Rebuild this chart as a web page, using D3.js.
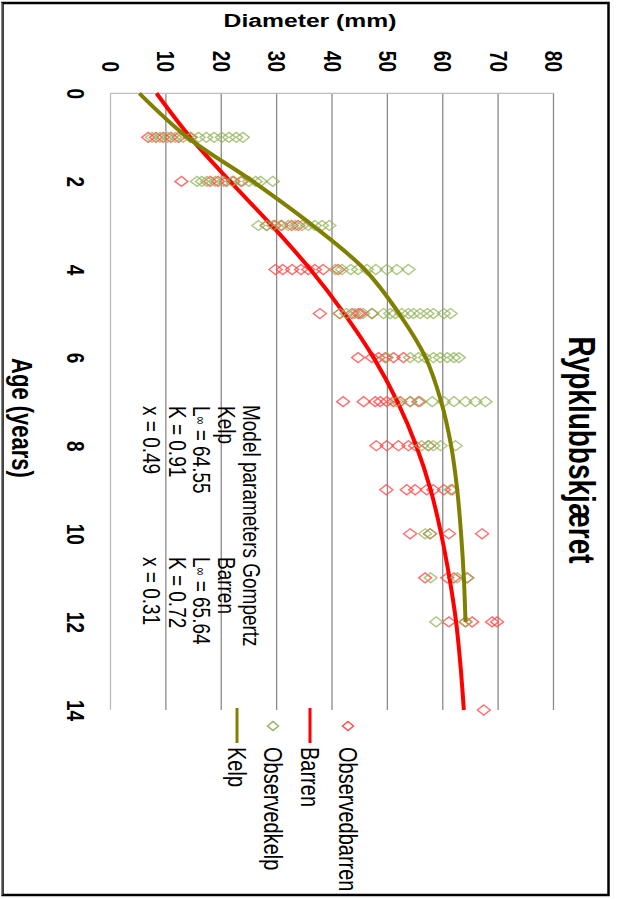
<!DOCTYPE html>
<html>
<head>
<meta charset="utf-8">
<script src="https://cdn.jsdelivr.net/npm/d3@7"></script>
<style>
  html, body { margin: 0; padding: 0; background: #fff; }
  svg { display: block; font-family: "Liberation Sans", Arial, sans-serif; }
</style>
</head>
<body>
<svg id="chart" width="621" height="899"></svg>
<script>
// ---- data ----
const chartTitle = "Rypklubbskjæret";
const xTitle = "Age (years)";
const yTitle = "Diameter (mm)";
const ageTicks = [0, 2, 4, 6, 8, 10, 12, 14];
const diameterTicks = [0, 10, 20, 30, 40, 50, 60, 70, 80];

// fitted Gompertz curves (diameter per age)
const kelpAges = [0, 1, 2, 3, 4, 5, 6, 7, 8, 9, 10, 11, 12];
const kelpFit = [5.3, 14.0, 25.8, 36.6, 46.0, 52.2, 57.0, 59.8, 61.6, 62.7, 63.4, 63.9, 64.2];
const barrenAges = [0, 1, 2, 3, 4, 5, 6, 7, 8, 9, 10, 11, 12, 13, 14];
const barrenFit = [8.4, 14.5, 21.7, 29.2, 36.2, 42.3, 47.6, 51.9, 55.3, 57.9, 59.8, 61.3, 62.5, 63.3, 63.9];

// observed diameters grouped by age
const observedBarren = [
  [1, [6.9, 8.3, 9.6, 11.0, 12.4, 14.5]],
  [2, [12.9, 18.1, 19.5, 21.0, 22.3, 23.8]],
  [3, [28.3, 29.8, 31.0, 32.8, 34.0]],
  [4, [29.9, 31.2, 32.9, 34.5, 35.8, 37.0, 38.5, 41.2]],
  [5, [37.9, 41.5, 43.7, 44.8, 45.2, 47.3]],
  [6, [44.8, 47.3, 48.5, 49.7, 51.2, 53.0]],
  [7, [42.1, 45.8, 47.9, 48.8, 50.0, 51.2, 52.4, 54.2, 55.7]],
  [8, [48.1, 50.0, 52.1, 53.9, 55.1, 57.5]],
  [9, [49.9, 53.6, 55.1, 57.2, 58.4, 60.3, 61.8]],
  [10, [54.2, 57.8, 61.2, 67.2]],
  [11, [56.9, 60.9, 62.1, 64.5]],
  [12, [61.2, 64.2, 65.4, 69.0, 69.9]],
  [14, [67.5]]
];
const observedKelp = [
  [1, [7.6, 9.0, 10.4, 11.8, 13.2, 14.6, 16.0, 17.4, 18.8, 20.2, 21.5, 22.8, 24.0]],
  [2, [15.7, 16.6, 17.5, 19.0, 20.5, 22.1, 23.6, 25.1, 26.3, 27.2, 29.4]],
  [3, [26.8, 28.3, 29.5, 30.8, 32.2, 33.5, 34.7, 35.8, 37.0, 38.3, 39.6]],
  [4, [40.7, 41.9, 43.5, 44.8, 46.4, 48.0, 50.0, 51.8, 53.9]],
  [5, [41.5, 42.7, 44.2, 45.7, 47.3, 49.4, 50.6, 51.5, 52.7, 53.9, 54.8, 56.0, 57.3, 58.4, 60.3, 61.5]],
  [6, [50.0, 54.2, 55.7, 56.9, 58.4, 59.6, 60.9, 62.1, 63.0]],
  [7, [51.8, 54.2, 56.0, 58.2, 60.3, 62.1, 64.2, 66.0, 67.8]],
  [8, [56.3, 57.5, 58.4, 59.7, 62.4]],
  [9, [61.5]],
  [10, [56.9, 57.8]],
  [11, [57.9, 62.7, 64.5]],
  [12, [58.9, 64.2]]
];

const paramHeader = "Model parameters Gompertz";
const paramKelp = ["Kelp", "64.55", "K = 0.91", "x = 0.49"];
const paramBarren = ["Barren", "65.64", "K = 0.72", "x = 0.31"];
const legendLabels = ["Observedbarren", "Barren", "Observedkelp", "Kelp"];

// ---- layout ----
const S = 1.3; // glyph stretch across the page
const svg = d3.select("#chart");
const x = d3.scaleLinear().domain([0, 80]).range([110, 553]);
const y = d3.scaleLinear().domain([0, 14]).range([93.3, 710]);
const rot = (px, py) => `translate(${px},${py}) rotate(90) scale(1,${S})`;

const colBarrenPt = "#ff4a4a";
const colKelpPt = "#92b45a";
const colBarren = "#ff0000";
const colKelp = "#808000";

// outer frame
svg.append("rect").attr("x", 2.5).attr("y", 3).attr("width", 606).attr("height", 892)
  .attr("fill", "#fff").attr("stroke", "#000").attr("stroke-width", 2.5);
svg.append("line").attr("x1", 1.8).attr("x2", 1.8).attr("y1", 3).attr("y2", 895)
  .attr("stroke", "#8a8a8a").attr("stroke-width", 1.5);

// gridlines + diameter labels
const gx = svg.append("g").attr("transform", `translate(0,${y(0)})`)
  .call(d3.axisTop(x).tickValues(diameterTicks).tickSize(-(y(14) - y(0))).tickFormat(d3.format("d")));
gx.select(".domain").remove();
gx.selectAll(".tick line").attr("stroke", d => d === 0 ? "#bdbdbd" : "#8a8a8a").attr("stroke-width", 1.3);
gx.selectAll(".tick text")
  .attr("y", null).attr("dy", null)
  .attr("transform", `translate(0,${72 - y(0)}) rotate(90) scale(1,${S})`)
  .attr("text-anchor", "end").attr("dominant-baseline", "central")
  .attr("font-size", 19).attr("font-weight", "bold").attr("fill", "#000")
  .attr("font-family", "Liberation Sans, Arial, sans-serif");

// top edge of plot
svg.append("line").attr("x1", x(0)).attr("x2", x(80)).attr("y1", y(0)).attr("y2", y(0))
  .attr("stroke", "#bdbdbd").attr("stroke-width", 1.3);

// age labels
const gy = svg.append("g").attr("transform", `translate(${x(0)},0)`)
  .call(d3.axisLeft(y).tickValues(ageTicks).tickSize(0).tickFormat(d3.format("d")));
gy.select(".domain").remove();
gy.selectAll(".tick text")
  .attr("x", null).attr("dy", null)
  .attr("transform", `translate(${75 - x(0)},0) rotate(90) scale(1,${S})`)
  .attr("text-anchor", "middle").attr("dominant-baseline", "central")
  .attr("font-size", 19).attr("font-weight", "bold").attr("fill", "#000")
  .attr("font-family", "Liberation Sans, Arial, sans-serif");

// titles
svg.append("text").attr("transform", `translate(310,27) scale(${S},1)`)
  .attr("text-anchor", "middle").attr("font-size", 19).attr("font-weight", "bold").text(yTitle);
svg.append("text").attr("transform", rot(22, 418))
  .attr("text-anchor", "middle").attr("dominant-baseline", "central")
  .attr("font-size", 22).attr("font-weight", "bold").text(xTitle);
svg.append("text").attr("transform", rot(581, 450))
  .attr("text-anchor", "middle").attr("dominant-baseline", "central")
  .attr("font-size", 28).attr("font-weight", "bold").text(chartTitle);

// observed points
const diamond = (w, h) => `M0,${-h}L${w},0L0,${h}L${-w},0Z`;
function drawObs(groups, color, op) {
  const pts = groups.flatMap(([age, ds]) => ds.map(d => [age, d]));
  svg.append("g").selectAll("path").data(pts).join("path")
    .attr("d", diamond(6.5, 5))
    .attr("transform", p => `translate(${x(p[1])},${y(p[0])})`)
    .attr("fill", "none").attr("stroke", color).attr("stroke-width", 1.4).attr("stroke-opacity", op);
}
function drawFit(ages, vals, color) {
  const line = d3.line().x(d => x(d[1])).y(d => y(d[0])).curve(d3.curveCatmullRom.alpha(0.5));
  svg.append("path").datum(ages.map((a, i) => [a, vals[i]]))
    .attr("d", line).attr("fill", "none").attr("stroke", color).attr("stroke-width", 4);
}
drawObs(observedBarren, colBarrenPt, 0.8);
drawFit(barrenAges, barrenFit, colBarren);
drawObs(observedKelp, colKelpPt, 0.75);
drawFit(kelpAges, kelpFit, colKelp);

// model parameter notes
function noteLine(px, py, parts) {
  const t = svg.append("text").attr("transform", rot(px, py))
    .attr("dominant-baseline", "central").attr("font-size", 19).attr("fill", "#000");
  parts.forEach(p => {
    const s = t.append("tspan").text(p.t);
    if (p.small) s.attr("font-size", 11);
  });
}
const noteX = [252, 227, 202, 178, 152];
noteLine(noteX[0], 405, [{ t: paramHeader }]);
[[paramKelp, 406], [paramBarren, 557]].forEach(([p, sy]) => {
  noteLine(noteX[1], sy, [{ t: p[0] }]);
  noteLine(noteX[2], sy, [{ t: "L" }, { t: "∞", small: true }, { t: " = " + (p === paramBarren ? " " : "") + p[1] }]);
  noteLine(noteX[3], sy, [{ t: p[2] }]);
  noteLine(noteX[4], sy, [{ t: p[3] }]);
});

// legend
const legX = [348, 310, 273, 237];
const legKind = ["pt", "line", "pt", "line"];
const legCol = [colBarrenPt, colBarren, colKelpPt, colKelp];
legendLabels.forEach((lab, i) => {
  if (legKind[i] === "line") {
    svg.append("line").attr("x1", legX[i]).attr("x2", legX[i]).attr("y1", 708).attr("y2", 743)
      .attr("stroke", legCol[i]).attr("stroke-width", 3);
  } else {
    svg.append("path").attr("d", diamond(5.5, 4.5))
      .attr("transform", `translate(${legX[i]},726)`)
      .attr("fill", "none").attr("stroke", legCol[i]).attr("stroke-width", 1.4);
  }
  svg.append("text").attr("transform", rot(legX[i], 747))
    .attr("dominant-baseline", "central").attr("font-size", 20).attr("fill", "#000").text(lab);
});
</script>
</body>
</html>
